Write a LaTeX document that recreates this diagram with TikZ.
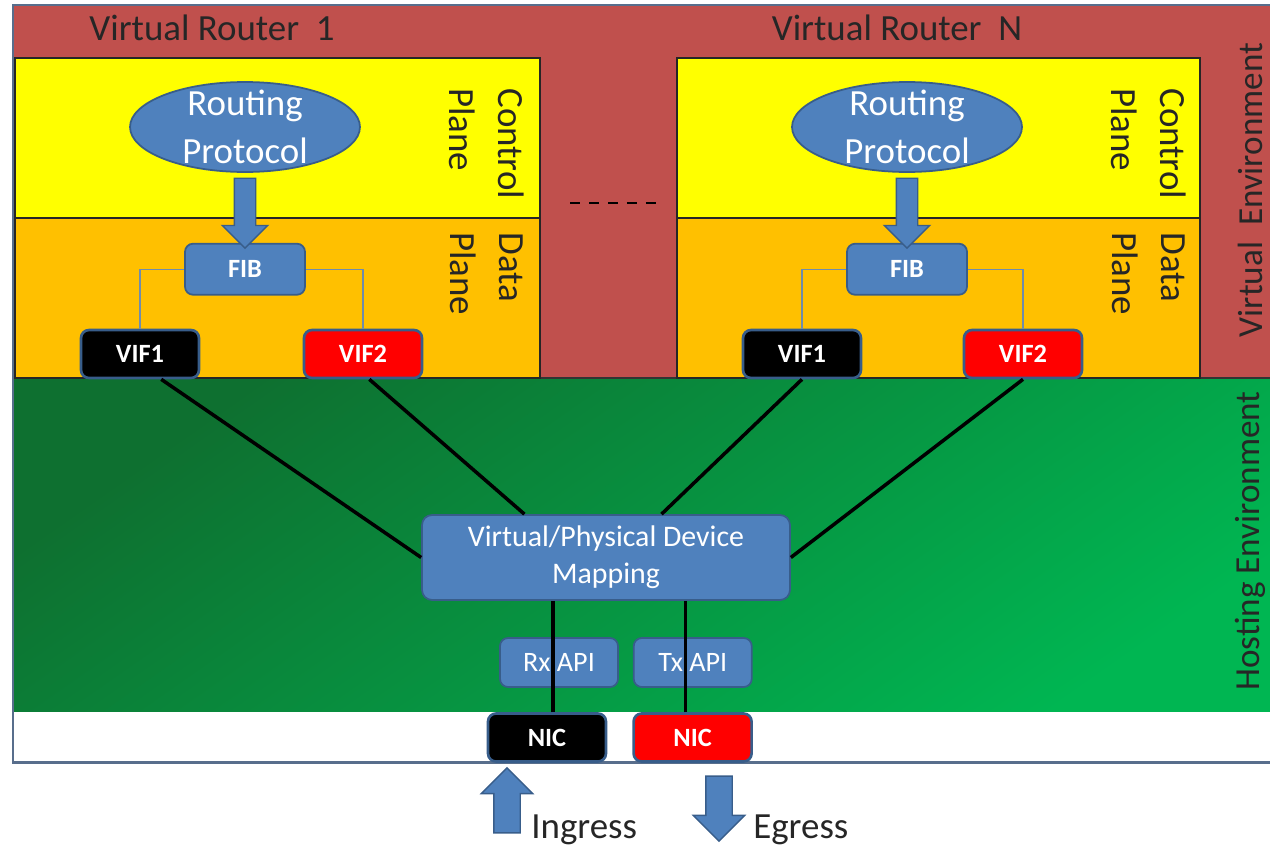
\documentclass[tikz,border=0pt]{standalone}
\usepackage{fontspec}
\setmainfont{Carlito}
\usetikzlibrary{positioning,shapes.geometric,shapes.arrows,calc}

\definecolor{routerred}{RGB}{192,80,77}
\definecolor{ctrlyellow}{RGB}{255,255,0}
\definecolor{dataorange}{RGB}{255,192,0}
\definecolor{hostdark}{RGB}{14,112,48}
\definecolor{hostlight}{RGB}{0,182,82}
\definecolor{boxblue}{RGB}{79,129,189}
\definecolor{boxedge}{RGB}{56,93,138}
\definecolor{framegray}{RGB}{88,110,140}
\definecolor{fibgray}{RGB}{112,140,172}

\begin{document}
\begin{tikzpicture}[x=0.02cm, y=-0.02cm,
plane/.style={draw=black!85, line width=0.6pt},
biglabel/.style={font=\fontsize{21}{28}\selectfont, text=black!85, inner sep=0pt, align=left},
envlabel/.style={font=\fontsize{20}{24}\selectfont, text=black!85, inner sep=0pt, rotate=90},
proto/.style={ellipse, fill=boxblue, draw=boxedge, line width=1pt, minimum width=46mm, minimum height=18mm, inner sep=-3mm, align=center, text=white, font=\fontsize{21}{27}\selectfont},
fibbox/.style={rectangle, rounded corners=1.6mm, fill=boxblue, draw=boxedge, line width=1pt, minimum width=24mm, minimum height=10.2mm, text=white, font=\fontsize{15}{17}\selectfont\bfseries},
vif/.style={rectangle, rounded corners=1.6mm, draw=boxedge, line width=1.5pt, minimum width=23.6mm, minimum height=9.6mm, text=white, font=\fontsize{15}{17}\selectfont\bfseries},
mapbox/.style={rectangle, rounded corners=2mm, fill=boxblue, draw=boxedge, line width=1pt, minimum width=73.6mm, minimum height=17mm, align=center, text=white, font=\fontsize{17}{21}\selectfont},
api/.style={rectangle, rounded corners=1.6mm, fill=boxblue, draw=boxedge, line width=1pt, minimum width=23.6mm, minimum height=9.8mm, text=white, font=\fontsize{16}{18}\selectfont},
blockarrow/.style={single arrow, fill=boxblue, draw=boxedge, line width=0.8pt, single arrow head indent=0pt},
wire/.style={black, line width=2pt},
fibline/.style={fibgray, line width=0.7pt},
]

\useasboundingbox (0,0) rectangle (1270,848);
\clip (0,0) rectangle (1270,848);

% environments
\fill[routerred] (13,5) rectangle (1300,378);
\shade[top color=hostdark, bottom color=hostlight, shading angle=35] (13,378) rectangle (1300,712);
\fill[white] (13,712) rectangle (1300,762);
\draw[black!80, line width=0.6pt] (13,378) -- (1300,378);
\draw[framegray, line width=1.7pt] (13,5) rectangle (1300,762);

% planes
\draw[plane, fill=ctrlyellow] (15,58) rectangle (540,218);
\draw[plane, fill=dataorange] (15,218) rectangle (540,378);
\draw[plane, fill=ctrlyellow] (677,58) rectangle (1200,218);
\draw[plane, fill=dataorange] (677,218) rectangle (1200,378);
\draw[black, line width=1.7pt, dash pattern=on 2mm off 1.8mm] (570,203) -- (662,203);

\node[biglabel] (vr1) at (212,28) {Virtual Router~~1};
\node[biglabel] (vrN) at (897,28) {Virtual Router~~N};
\node[biglabel, rotate=-90, anchor=west] (cp1) at (487,88) {Control\\Plane};
\node[biglabel, rotate=-90, anchor=west] (dp1) at (487,232) {Data\\Plane};
\node[biglabel, rotate=-90, anchor=west] (cpN) at (1149,88) {Control\\Plane};
\node[biglabel, rotate=-90, anchor=west] (dpN) at (1149,232) {Data\\Plane};
\node[envlabel] (venv) at (1250,190) {Virtual\ \ Environment};
\node[envlabel] (henv) at (1250,541) {Hosting Environment};

% virtual router 1
\node[proto] (proto1) at (245,127) {Routing\\Protocol};
\node[fibbox] (fib1) [below=14mm of proto1] {FIB};
\node[vif, fill=black] (vifa1) at (140,354) {VIF1};
\node[vif, fill=red] (vifb1) at (363,354) {VIF2};

% virtual router N
\node[proto] (protoN) at (907,127) {Routing\\Protocol};
\node[fibbox] (fibN) [below=14mm of protoN] {FIB};
\node[vif, fill=black] (vifaN) at (802,354) {VIF1};
\node[vif, fill=red] (vifbN) at (1023,354) {VIF2};

% hosting environment
\node[mapbox] (map) at (606,557.5) {Virtual/Physical Device\\Mapping};
\node[api] (rx) at (559,662.5) {Rx API};
\node[api] (tx) [right=2.8mm of rx] {Tx API};
\node[vif, fill=black] (nic1) at (547,737.5) {NIC};
\node[vif, fill=red] (nic2) [right=5mm of nic1] {NIC};

\node[blockarrow, rotate=90, minimum height=13mm, inner sep=2.5mm, single arrow head extend=2.5mm] (ingarrow) at (507,807) {};
\node[blockarrow, rotate=-90, minimum height=13mm, inner sep=2.5mm, single arrow head extend=2.5mm] (egarrow) at (719,802) {};
\node[biglabel, anchor=base west] (ingress) at (531,838) {Ingress};
\node[biglabel, anchor=base west] (egress) at (753,838) {Egress};

\path (proto1.south) -- (fib1.north) node[midway, blockarrow, rotate=-90, minimum height=14mm, inner sep=2mm, single arrow head extend=2.4mm] (arr1) {};
\path (protoN.south) -- (fibN.north) node[midway, blockarrow, rotate=-90, minimum height=14mm, inner sep=2mm, single arrow head extend=2.4mm] (arrN) {};

\draw[fibline] (fib1.west) -| (vifa1.north);
\draw[fibline] (fib1.east) -| (vifb1.north);
\draw[fibline] (fibN.west) -| (vifaN.north);
\draw[fibline] (fibN.east) -| (vifbN.north);

\draw[wire] (vifa1.-50) -- (map.west);
\draw[wire] (vifb1.-76) -- (map.152);
\draw[wire] (vifaN.south) -- (map.38);
\draw[wire] (vifbN.south) -- (map.east);

\coordinate (rxwire) at ($(nic1.north)+(6,0)$);
\coordinate (txwire) at ($(nic2.north)+(-7,0)$);
\draw[wire] (rxwire) -- (rxwire |- map.south);
\draw[wire] (txwire) -- (txwire |- map.south);
\end{tikzpicture}
\end{document}
